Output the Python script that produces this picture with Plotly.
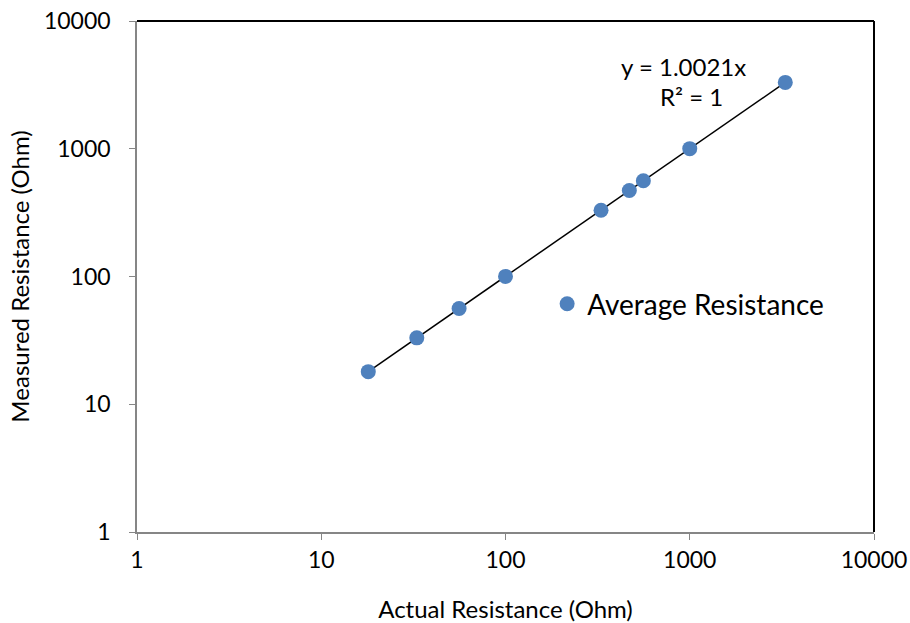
import numpy as np
import plotly.graph_objects as go

actual = [18, 33, 56, 100, 330, 470, 560, 1000, 3300]
measured = [18.0, 33.1, 56.1, 100.2, 330.5, 471.0, 561.0, 1002.0, 3307.0]
series_name = "Average Resistance"
tick_vals = [1, 10, 100, 1000, 10000]
tick_text = ["1", "10", "100", "1000", "10000"]
eq_line1 = "y = 1.0021x"
eq_line2 = "R² = 1"

x = np.array(actual, dtype=float)
y = np.array(measured, dtype=float)
slope = float((x * y).sum() / (x * x).sum())
trend_x = [x.min(), x.max()]
trend_y = [slope * v for v in trend_x]

FONT = "Lato"
FS = 24
grey = "#868686"

fig = go.Figure()
fig.add_trace(go.Scatter(x=trend_x, y=trend_y, mode="lines",
                         line=dict(color="black", width=1.5), showlegend=False,
                         hoverinfo="skip"))
fig.add_trace(go.Scatter(x=actual, y=measured, mode="markers", name=series_name,
                         marker=dict(color="#4F81BD", size=15)))

axis_common = dict(type="log", range=[0, 4], tickvals=tick_vals, ticktext=tick_text,
                   showgrid=False, zeroline=False, showline=True, linecolor=grey,
                   linewidth=1.5, ticks="outside", ticklen=6, tickcolor=grey,
                   automargin=False, ticklabeloverflow="allow",
                   tickfont=dict(family=FONT, size=23, color="black"))

fig.update_xaxes(**axis_common, ticklabelstandoff=1,
                 title=dict(text="Actual Resistance (Ohm)", font=dict(family=FONT, size=FS, color="black"), standoff=31))
fig.update_yaxes(**axis_common, ticklabelstandoff=14,
                 title=dict(text="Measured Resistance (Ohm)", font=dict(family=FONT, size=FS, color="black"), standoff=8))

fig.add_shape(type="line", xref="paper", yref="paper", x0=0, x1=1, y0=1, y1=1,
              line=dict(color="black", width=2))
fig.add_shape(type="line", xref="paper", yref="paper", x0=1, x1=1, y0=0, y1=1,
              line=dict(color="black", width=2))

fig.add_annotation(x=0.742, y=0.910, xref="paper", yref="paper",
                   text=eq_line1, showarrow=False, xanchor="center", yanchor="middle",
                   font=dict(family=FONT, size=FS, color="black"))
fig.add_annotation(x=0.752, y=0.853, xref="paper", yref="paper",
                   text=eq_line2, showarrow=False, xanchor="center", yanchor="middle",
                   font=dict(family=FONT, size=FS, color="black"))

fig.update_layout(
    width=910, height=623,
    margin=dict(l=137, r=36, t=21, b=91),
    paper_bgcolor="white", plot_bgcolor="white",
    font=dict(family=FONT, size=FS, color="black"),
    legend=dict(x=0.5565, y=0.446, xanchor="left", yanchor="middle",
                bgcolor="rgba(0,0,0,0)", font=dict(family=FONT, size=28, color="black"),
                itemwidth=30),
)

fig.write_html("out.html", config={"displayModeBar": False},
               post_script="document.body.style.margin='0';document.body.style.overflow='hidden';")
